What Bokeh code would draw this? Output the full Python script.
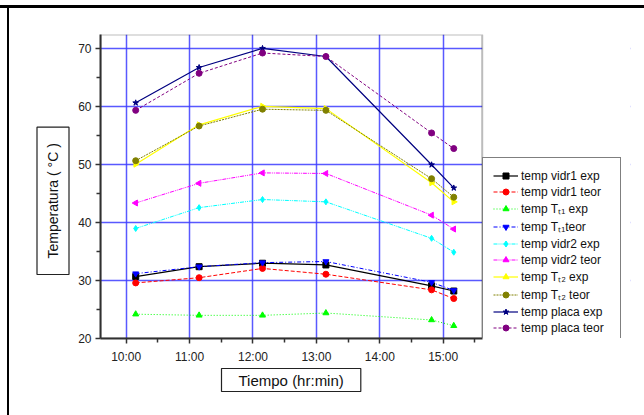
import math
from bokeh.plotting import figure
from bokeh.models import FixedTicker, Legend, LegendItem, Title, Range1d, BoxAnnotation
from bokeh.embed import file_html
from bokeh.resources import INLINE

# ---- data ----
times = ["10:09", "11:09", "12:09", "13:09", "14:49", "15:10"]
hours = [int(t[:2]) + int(t[3:]) / 60 for t in times]

vidr1_exp = [30.7, 32.4, 33.0, 32.7, 29.1, 28.2]
vidr1_teor = [29.6, 30.5, 32.1, 31.1, 28.4, 26.9]
tt1_exp = [24.2, 24.0, 24.0, 24.4, 23.2, 22.2]
tt1_teor = [31.2, 32.4, 33.1, 33.3, 29.7, 28.3]
vidr2_exp = [39.0, 42.6, 44.0, 43.6, 37.3, 34.9]
vidr2_teor = [43.4, 46.8, 48.6, 48.5, 41.3, 38.9]
tt2_exp = [50.1, 56.9, 60.1, 59.7, 46.9, 43.6]
tt2_teor = [50.7, 56.7, 59.6, 59.4, 47.6, 44.4]
placa_exp = [60.7, 66.8, 70.1, 68.7, 50.0, 46.0]
placa_teor = [59.4, 65.8, 69.3, 68.7, 55.5, 52.8]

labels = ["temp vidr1 exp", "temp vidr1 teor", "temp T\u209c\u2081 exp", "temp T\u209c\u2081teor",
          "temp vidr2 exp", "temp vidr2 teor", "temp T\u209c\u2082 exp", "temp T\u209c\u2082 teor",
          "temp placa exp", "temp placa teor"]

x_ticks = [10, 11, 12, 13, 14, 15]
x_tick_labels = ["10:00", "11:00", "12:00", "13:00", "14:00", "15:00"]
y_ticks = [20, 30, 40, 50, 60, 70]

# ---- layout constants ----
x_lo, x_hi = 9.595, 15.615          # visible plot-area limits (hours)
y_lo, y_hi = 20, 72.5
frame_left, plot_right, frame_right = 100, 481.7, 630   # px
x_end = x_lo + (x_hi - x_lo) * (frame_right - frame_left) / (plot_right - frame_left)

# ---- styles ----
series = [
    (vidr1_exp, "#000000", "solid", "square", 0.0, 1.2),
    (vidr1_teor, "#ff0000", "4 2", "circle", 0.0, 1.0),
    (tt1_exp, "#00ff00", "1 2", "triangle", 0.0, 1.0),
    (tt1_teor, "#0000ff", "4 2 1 2", "inverted_triangle", 0.0, 1.0),
    (vidr2_exp, "#00ffff", "4 1 1 1 1 1", "diamond", 0.0, 1.0),
    (vidr2_teor, "#ff00ff", "4 1 1 1 1 1", "triangle", math.pi / 2, 1.0),
    (tt2_exp, "#ffff00", "solid", "triangle", -math.pi / 2, 1.2),
    (tt2_teor, "#808000", "2 1", "circle", 0.0, 1.0),
    (placa_exp, "#000080", "solid", "star", 0.0, 1.2),
    (placa_teor, "#800080", "3 2", "circle", 0.0, 1.0),
]

p = figure(width=644, height=415, x_range=Range1d(x_lo, x_end), y_range=Range1d(y_lo, y_hi),
           output_backend="svg", toolbar_location=None,
           min_border_left=frame_left, min_border_right=644 - frame_right,
           min_border_top=34, min_border_bottom=77)
p.background_fill_color = "white"
p.border_fill_alpha = 0
p.styles = {"background": "linear-gradient(#000,#000) 0px 5px / 100% 3px no-repeat, "
                          "linear-gradient(#000,#000) 7px 5px / 2px 100% no-repeat, #ffffff"}
p.outline_line_color = None

# axes
p.xaxis.ticker = FixedTicker(ticks=x_ticks, minor_ticks=[t + 0.5 for t in [9] + x_ticks])
p.xaxis.major_label_overrides = dict(zip(x_ticks, x_tick_labels))
p.xaxis.bounds = (x_lo, x_hi)
p.yaxis.ticker = FixedTicker(ticks=y_ticks, minor_ticks=[t + 5 for t in y_ticks])
for ax in (p.xaxis[0], p.yaxis[0]):
    ax.axis_line_color = "#333333"
    ax.axis_line_width = 2
    ax.major_tick_line_color = "#333333"
    ax.minor_tick_line_color = "#333333"
    ax.major_tick_line_width = 1.5
    ax.minor_tick_line_width = 1.5
    ax.major_tick_in = 0
    ax.major_tick_out = 5
    ax.minor_tick_in = 0
    ax.minor_tick_out = 4
    ax.major_label_text_font = "Liberation Sans"
    ax.major_label_text_font_size = "12px"
    ax.major_label_text_color = "#222222"
p.xaxis.major_label_standoff = 6
p.yaxis.major_label_standoff = 4

p.grid.grid_line_color = "#3c3cff"
p.grid.grid_line_width = 1.5
p.grid.grid_line_alpha = 0.85

items = []
for (vals, color, dash, marker, ang, lw), lab in zip(series, labels):
    lr = p.line(hours, vals, line_color=color, line_dash=dash, line_width=lw)
    sr = p.scatter(hours, vals, marker=marker, size=6, angle=ang,
                   fill_color=color, line_color=color)
    items.append(LegendItem(label=lab, renderers=[lr, sr]))

# white area right of the plot area (legend zone) and the plot-area border
p.add_layout(BoxAnnotation(left=x_hi, fill_color="white", fill_alpha=1, line_color=None))
p.add_layout(BoxAnnotation(right=x_hi, fill_alpha=0, line_color="#222222", line_width=2))

legend = Legend(items=items, location=(round(plot_right - frame_left), -8), margin=0,
                padding=10, spacing=1,
                glyph_height=15, glyph_width=25, label_height=15, label_width=89,
                label_standoff=3, label_text_font="Liberation Sans",
                label_text_font_size="12px", label_text_color="#111111",
                border_line_color="#000000", border_line_width=1,
                background_fill_color="white", background_fill_alpha=1)
p.add_layout(legend)

ytitle = Title(text="Temperatura ( \u00b0C )", align="left", offset=64, standoff=13,
               text_font="Liberation Sans", text_font_size="14px", text_font_style="normal",
               text_color="#111111", border_line_color="#222222", border_line_width=1.2,
               background_fill_color="white",
               padding=dict(left=16, right=16, top=8, bottom=8))
xtitle = Title(text="Tiempo (hr:min)", align="left", offset=121, standoff=0,
               text_font="Liberation Sans", text_font_size="15px", text_font_style="normal",
               text_color="#111111", border_line_color="#222222", border_line_width=1.2,
               background_fill_color="white",
               padding=dict(left=17, right=17, top=3, bottom=3))
p.add_layout(ytitle, "left")
p.add_layout(xtitle, "below")

open("out.html", "w").write(file_html(p, INLINE))
